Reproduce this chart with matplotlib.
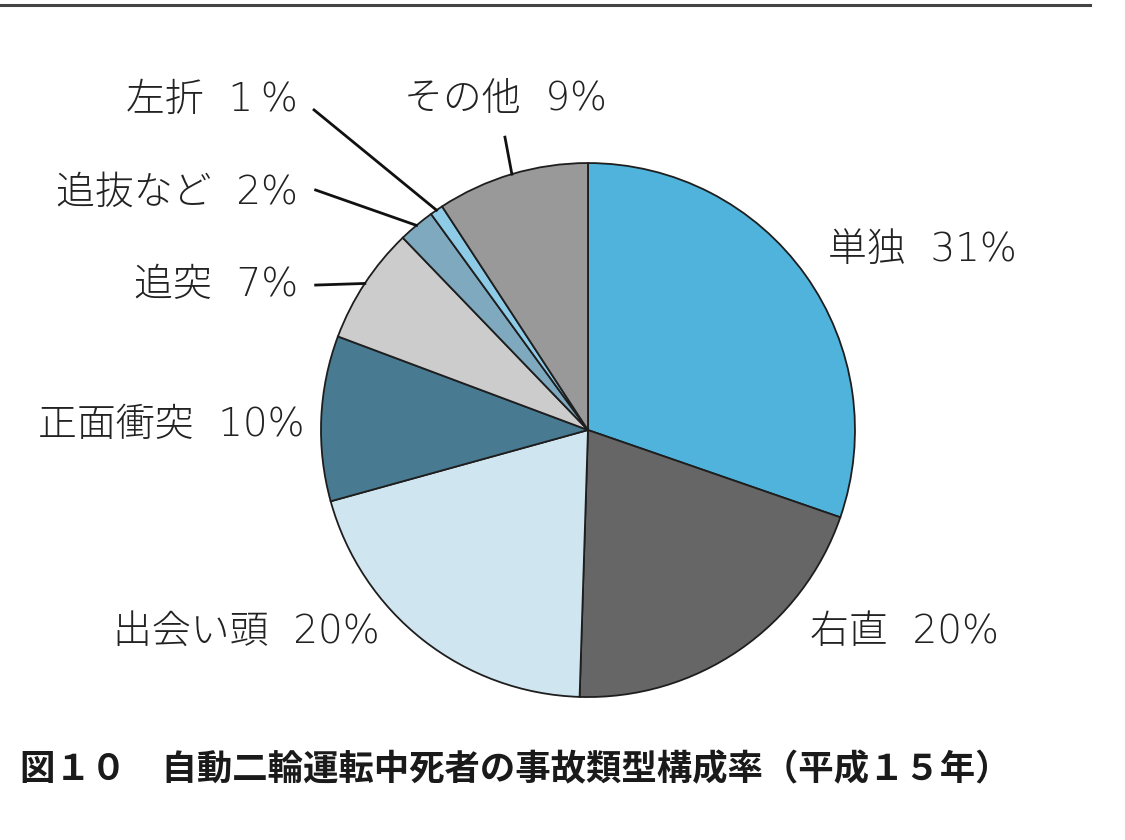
import numpy as np
import matplotlib.pyplot as plt
from matplotlib.lines import Line2D

plt.rcParams['font.family'] = ['Noto Sans CJK JP', 'DejaVu Sans']

# slice shares (clockwise from 12 o'clock)
categories = ['単独', '右直', '出会い頭', '正面衝突', '追突', '追抜など', '左折', 'その他']
shares = [30.3, 20.2, 20.2, 10.0, 7.1, 2.2, 0.8, 9.2]
shown_pct = ['31%', '20%', '20%', '10%', '7%', '2%', '1\u2009%', '9%']
colors = ['#4fb3db', '#666666', '#cfe5ef', '#487a91', '#cccccc', '#7fa9be', '#8dcbe6', '#999999']

title = '図１０　自動二輪運転中死者の事故類型構成率（平成１５年）'

# label placement (pie-radius units), leader start or None
label_pos = [(0.90, 0.674, 'left'), (0.83, -0.757, 'left'), (-0.78, -0.757, 'right'),
             (-1.06, 0.02, 'right'), (-1.085, 0.543, 'right'), (-1.085, 0.89, 'right'),
             (-1.085, 1.235, 'right'), (-0.31, 1.24, 'center')]
leader_start = [None, None, None, None, (-1.02, 0.543), (-1.02, 0.899),
                (-1.026, 1.199), (-0.311, 1.097)]

label_font = ['DejaVu Sans', 'Noto Sans CJK JP']

fig = plt.figure(figsize=(11.25, 8.4), dpi=100)
ax = fig.add_axes([0.2853, 0.1702, 0.4747, 0.6357])

wedges, _ = ax.pie(shares, colors=colors, startangle=90, counterclock=False,
                   radius=1.0, wedgeprops=dict(edgecolor='#1e1e1e', linewidth=1.3))
ax.set_xlim(-1, 1)
ax.set_ylim(-1, 1)
ax.set_aspect('equal')
ax.axis('off')

for i, w in enumerate(wedges):
    x, y, ha = label_pos[i]
    ax.text(x, y, categories[i] + '  ' + shown_pct[i], ha=ha, va='center',
            fontsize=28, fontweight='light', family=label_font,
            color='#222222', clip_on=False)
    if leader_start[i] is not None:
        mid = np.deg2rad((w.theta1 + w.theta2) / 2)
        ex, ey = np.cos(mid), np.sin(mid)
        sx, sy = leader_start[i]
        ax.plot([sx, ex], [sy, ey], color='#111111', lw=2, clip_on=False)

fig.text(0.018, 0.083, title, ha='left', va='center', fontsize=25.5,
         fontweight='bold', color='#1a1a1a')

fig.add_artist(Line2D([0, 1090 / 1125], [1 - 5 / 840, 1 - 5 / 840],
                      color='#444444', lw=2.2, transform=fig.transFigure))

fig.savefig('out.png', dpi=100, facecolor='white')
